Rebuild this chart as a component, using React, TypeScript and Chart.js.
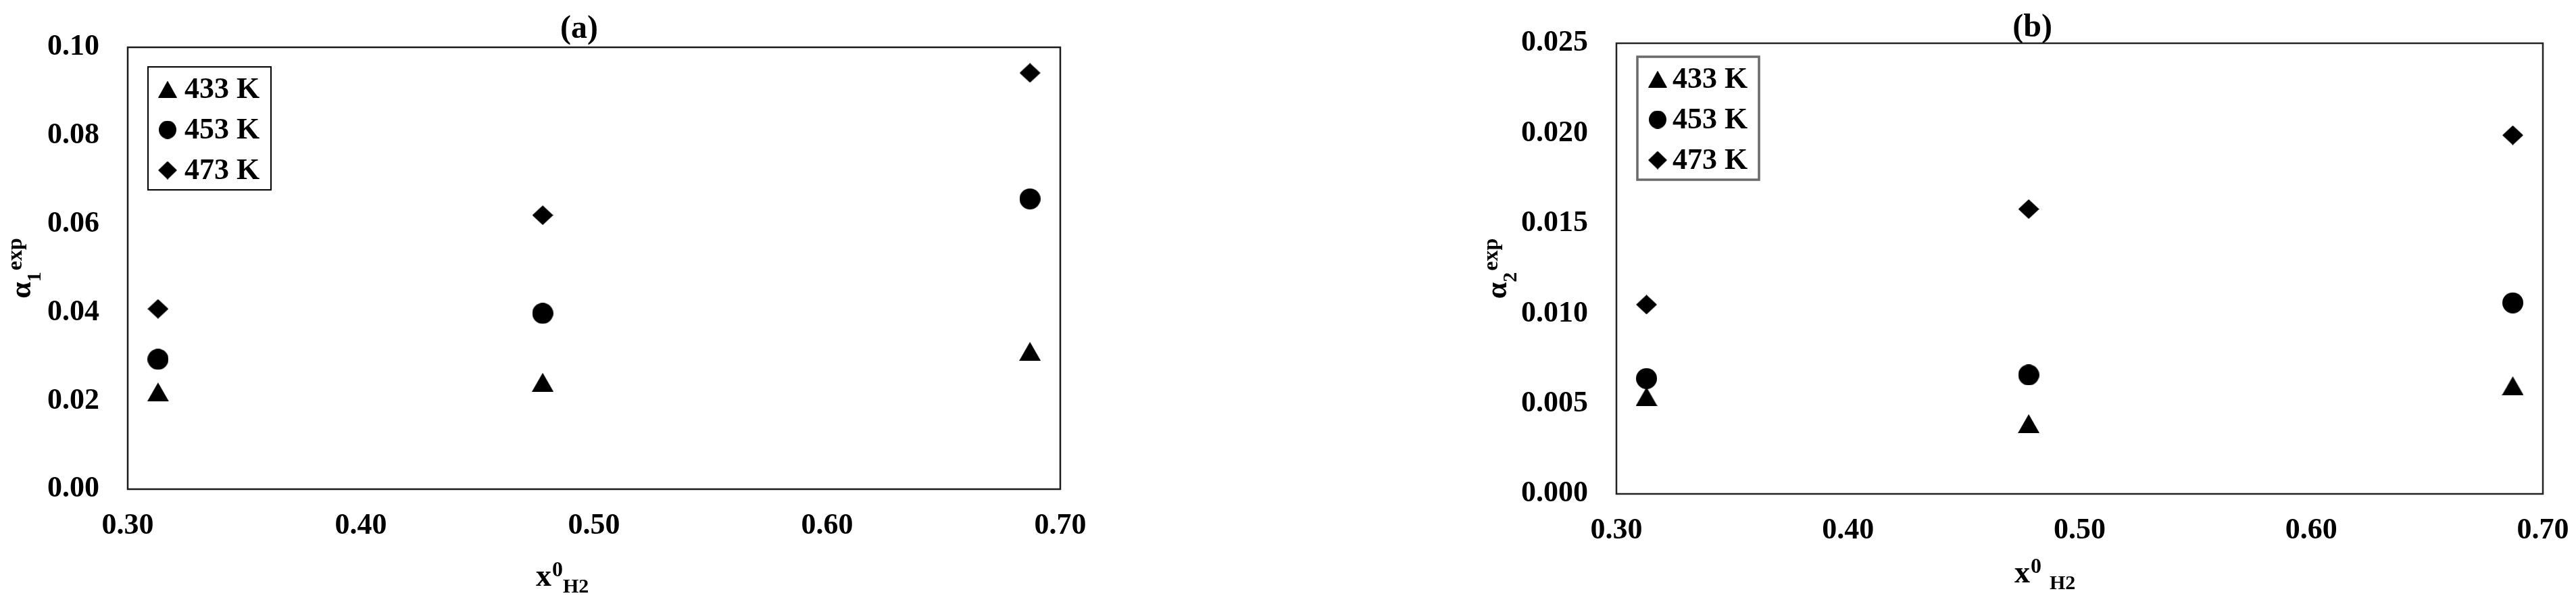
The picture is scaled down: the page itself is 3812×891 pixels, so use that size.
import React, { useEffect, useRef } from 'react';
import { Chart, registerables } from 'chart.js';

Chart.register(...registerables);

// ---------------- data ----------------
const xH2 = [0.313, 0.478, 0.687];
const seriesLabels = ['433 K', '453 K', '473 K'];

const alpha1_433 = [0.022, 0.0242, 0.0312];
const alpha1_453 = [0.0294, 0.0398, 0.0657];
const alpha1_473 = [0.0408, 0.062, 0.0942];

const alpha2_433 = [0.0054, 0.0039, 0.006];
const alpha2_453 = [0.0064, 0.0066, 0.0106];
const alpha2_473 = [0.0105, 0.0158, 0.0199];

const xTicks = [0.3, 0.4, 0.5, 0.6, 0.7];
const yTicksA = [0, 0.02, 0.04, 0.06, 0.08, 0.1];
const yTicksB = [0, 0.005, 0.01, 0.015, 0.02, 0.025];

// ---------------- styling / layout ----------------
const FONT = '"Liberation Serif", "Times New Roman", Times, serif';
const H = 891;

type PanelCfg = {
  title: string;
  width: number;
  area: { left: number; right: number; top: number; bottom: number };
  yMax: number;
  yTicks: number[];
  decimals: number;
  series: number[][];
  ySub: string;
  titleFrac: number;
  titleBaseline: number;
  xTitleLeft: number;
  xTitleBaseline: number;
  xTitleGap: number;
  yTitleBaselineX: number;
  legend: { left: number; top: number; w: number; h: number; rows: number[]; markerDx: number; textDx: number; color: string; lw: number };
  frameColor: string;
};

const panelA: PanelCfg = {
  title: '(a)',
  width: 1905,
  area: { left: 189, right: 1569, top: 70, bottom: 724 },
  yMax: 0.1,
  yTicks: yTicksA,
  decimals: 2,
  series: [alpha1_433, alpha1_453, alpha1_473],
  ySub: '1',
  titleFrac: 0.484,
  titleBaseline: 56,
  xTitleLeft: 793,
  xTitleBaseline: 867,
  xTitleGap: 0,
  yTitleBaselineX: 45,
  legend: { left: 219, top: 99, w: 182, h: 182, rows: [132, 192, 252], markerDx: 29, textDx: 54, color: '#000', lw: 2 },
  frameColor: '#1a1a1a',
};

const panelB: PanelCfg = {
  title: '(b)',
  width: 1907,
  area: { left: 487, right: 1858, top: 64, bottom: 731 },
  yMax: 0.025,
  yTicks: yTicksB,
  decimals: 3,
  series: [alpha2_433, alpha2_453, alpha2_473],
  ySub: '2',
  titleFrac: 0.449,
  titleBaseline: 54,
  xTitleLeft: 1076,
  xTitleBaseline: 862,
  xTitleGap: 12,
  yTitleBaselineX: 324,
  legend: { left: 518, top: 84, w: 180, h: 182, rows: [117, 177, 237], markerDx: 30, textDx: 52, color: '#6a6a6a', lw: 3.5 },
  frameColor: '#222',
};

// ---------------- markers ----------------
function mk(w: number, h: number, draw: (g: CanvasRenderingContext2D) => void) {
  const c = document.createElement('canvas');
  c.width = w;
  c.height = h;
  const g = c.getContext('2d')!;
  g.fillStyle = '#000';
  g.beginPath();
  draw(g);
  g.fill();
  return c;
}
const triangle = (w: number, h: number) =>
  mk(w, h, (g) => { g.moveTo(0, h); g.lineTo(w / 2, 0); g.lineTo(w, h); g.closePath(); });
const diamond = (w: number, h: number) =>
  mk(w, h, (g) => { g.moveTo(w / 2, 0); g.lineTo(w, h / 2); g.lineTo(w / 2, h); g.lineTo(0, h / 2); g.closePath(); });
const circle = (w: number, h: number) =>
  mk(w, h, (g) => { g.ellipse(w / 2, h / 2, w / 2, h / 2, 0, 0, Math.PI * 2); });

function decorPlugin(cfg: PanelCfg, legendMarks: HTMLCanvasElement[]) {
  return {
    id: 'decor',
    beforeDatasetsDraw(chart: any) {
      const { ctx, chartArea: ca } = chart;
      ctx.save();
      ctx.strokeStyle = cfg.frameColor;
      ctx.lineWidth = 2.5;
      ctx.strokeRect(ca.left, ca.top, ca.right - ca.left, ca.bottom - ca.top);
      ctx.restore();
    },
    afterDraw(chart: any) {
      const { ctx, chartArea: ca } = chart;
      ctx.save();
      ctx.fillStyle = '#000';
      ctx.textBaseline = 'alphabetic';

      // panel title
      ctx.font = `bold 48px ${FONT}`;
      ctx.textAlign = 'center';
      ctx.fillText(cfg.title, ca.left + cfg.titleFrac * (ca.right - ca.left), cfg.titleBaseline);

      // x-axis title: x^0_H2
      ctx.textAlign = 'left';
      let x = cfg.xTitleLeft;
      const b = cfg.xTitleBaseline;
      ctx.font = `bold 46px ${FONT}`;
      ctx.fillText('x', x, b);
      x += ctx.measureText('x').width + 1;
      ctx.font = `bold 32px ${FONT}`;
      ctx.fillText('0', x, b - 14);
      x += ctx.measureText('0').width + cfg.xTitleGap;
      ctx.font = `bold 30px ${FONT}`;
      ctx.fillText('H2', x, b + 10);

      // y-axis title: alpha_n^exp (rotated)
      const cy = (ca.top + ca.bottom) / 2;
      ctx.save();
      ctx.translate(cfg.yTitleBaselineX, cy);
      ctx.rotate(-Math.PI / 2);
      ctx.font = `bold 44px ${FONT}`;
      const wA = ctx.measureText('\u03b1').width;
      ctx.font = `bold 30px ${FONT}`;
      const wS = ctx.measureText(cfg.ySub).width;
      ctx.font = `bold 32px ${FONT}`;
      const wE = ctx.measureText('exp').width;
      let t = -(wA + wS + wE + 2) / 2;
      ctx.font = `bold 44px ${FONT}`;
      ctx.fillText('\u03b1', t, 0);
      t += wA;
      ctx.font = `bold 30px ${FONT}`;
      ctx.fillText(cfg.ySub, t, 15);
      t += wS + 2;
      ctx.font = `bold 32px ${FONT}`;
      ctx.fillText('exp', t, -13);
      ctx.restore();

      // legend
      const L = cfg.legend;
      ctx.fillStyle = '#fff';
      ctx.fillRect(L.left, L.top, L.w, L.h);
      ctx.strokeStyle = L.color;
      ctx.lineWidth = L.lw;
      ctx.strokeRect(L.left, L.top, L.w, L.h);
      ctx.fillStyle = '#000';
      ctx.font = `bold 44px ${FONT}`;
      ctx.textBaseline = 'middle';
      chart.data.datasets.forEach((ds: any, i: number) => {
        const m = legendMarks[i];
        const ry = L.rows[i];
        const mx = L.left + L.markerDx;
        ctx.drawImage(m, mx - m.width / 2, ry - m.height / 2);
        ctx.fillText(ds.label, L.left + L.textDx, ry + 2);
      });
      ctx.restore();
    },
  };
}

function buildChart(canvas: HTMLCanvasElement, cfg: PanelCfg) {
  const dataMarks = [triangle(32, 28), circle(31, 31), diamond(31, 29)];
  const legendMarks = [triangle(28, 25), circle(26, 27), diamond(28, 27)];
  const tickFont = { family: FONT, size: 44, weight: 'bold' as const, lineHeight: 1.2 };
  const datasets = cfg.series.map((vals, i) => ({
    label: seriesLabels[i],
    data: xH2.map((x, j) => ({ x, y: vals[j] })),
    pointStyle: dataMarks[i],
    pointRadius: 16,
    pointHoverRadius: 16,
    pointBorderWidth: 0,
    backgroundColor: '#000',
    borderColor: '#000',
    showLine: false,
  }));
  return new Chart(canvas, {
    type: 'scatter',
    data: { datasets },
    options: {
      animation: false,
      responsive: false,
      devicePixelRatio: 1,
      events: [],
      layout: { padding: { left: 0, right: cfg.width - cfg.area.right, top: cfg.area.top, bottom: 0 } },
      plugins: { legend: { display: false }, tooltip: { enabled: false }, title: { display: false } },
      scales: {
        x: {
          type: 'linear',
          min: 0.3,
          max: 0.7,
          grid: { display: false, drawTicks: false, tickLength: 0 },
          border: { display: false },
          ticks: {
            font: tickFont,
            color: '#000',
            padding: 28,
            maxRotation: 0,
            autoSkip: false,
            callback: (v: any) => Number(v).toFixed(2),
          },
          afterBuildTicks: (axis: any) => { axis.ticks = xTicks.map((v) => ({ value: v })); },
          afterFit: (s: any) => { s.height = H - cfg.area.bottom; s.paddingLeft = 0; s.paddingRight = 0; },
        },
        y: {
          type: 'linear',
          min: 0,
          max: cfg.yMax,
          grid: { display: false, drawTicks: false, tickLength: 0 },
          border: { display: false },
          ticks: {
            font: tickFont,
            color: '#000',
            padding: 42,
            autoSkip: false,
            callback: (v: any) => Number(v).toFixed(cfg.decimals),
          },
          afterBuildTicks: (axis: any) => { axis.ticks = cfg.yTicks.map((v) => ({ value: v })); },
          afterFit: (s: any) => { s.width = cfg.area.left; s.paddingTop = 0; s.paddingBottom = 0; },
        },
      },
    } as any,
    plugins: [decorPlugin(cfg, legendMarks)],
  });
}

function Panel({ cfg }: { cfg: PanelCfg }) {
  const ref = useRef<HTMLCanvasElement>(null);
  useEffect(() => {
    if (!ref.current) return;
    const chart = buildChart(ref.current, cfg);
    return () => chart.destroy();
  }, [cfg]);
  return (
    <canvas
      ref={ref}
      width={cfg.width}
      height={H}
      style={{ display: 'block', width: cfg.width, height: H }}
    />
  );
}

export default function App() {
  return (
    <div
      style={{
        position: 'absolute',
        left: 0,
        top: 0,
        width: 3812,
        height: H,
        display: 'flex',
        background: '#fff',
        overflow: 'hidden',
      }}
    >
      <Panel cfg={panelA} />
      <Panel cfg={panelB} />
    </div>
  );
}
